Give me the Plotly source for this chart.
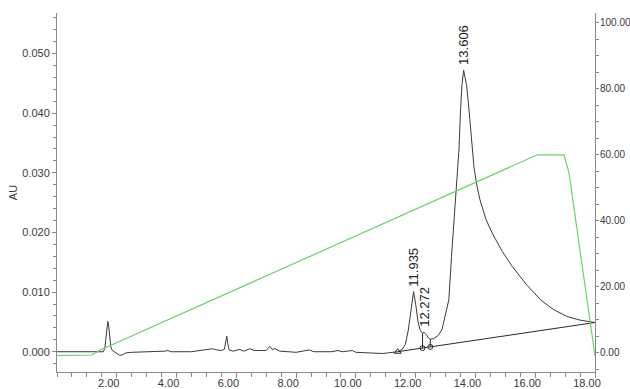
import numpy as np
import plotly.graph_objects as go

# ---- chromatogram trace (minutes, AU) ----
chrom_time = [0.00, 1.55, 1.60, 1.64, 1.67, 1.70, 1.73, 1.76, 1.80, 1.85, 1.95, 2.03, 2.10, 2.20,
              2.30, 2.50, 3.00, 3.50, 3.62, 3.71, 3.82, 4.50, 5.00, 5.20, 5.35, 5.50, 5.60, 5.65,
              5.68, 5.71, 5.76, 5.90, 6.10, 6.25, 6.45, 6.60, 7.00, 7.12, 7.20, 7.30, 7.45, 8.00,
              8.44, 8.60, 9.20, 9.40, 9.55, 9.88, 10.00, 10.90, 11.40, 11.55, 11.65, 11.75, 11.85,
              11.93, 12.00, 12.08, 12.15, 12.23, 12.27, 12.35, 12.43, 12.49, 12.60, 12.75, 12.88,
              13.00, 13.11, 13.20, 13.33, 13.45, 13.50, 13.55, 13.606, 13.65, 13.70, 13.76, 13.82,
              13.88, 13.95, 14.05, 14.15, 14.35, 14.56, 14.90, 15.23, 15.70, 16.18, 16.60, 17.07,
              17.50, 18.00]
chrom_au = [0.0000, 0.0000, 0.0006, 0.0025, 0.0045, 0.0051, 0.0043, 0.0022, 0.0008, 0.0002, -0.0001,
            -0.0003, -0.0006, -0.0005, -0.0002, -0.0001, 0.0000, 0.0000, 0.0001, 0.0002, 0.0000,
            0.0000, 0.0003, 0.0005, 0.0003, 0.0002, 0.0004, 0.0015, 0.0026, 0.0015, 0.0003, 0.0001,
            0.0004, 0.0001, 0.0005, 0.0002, 0.0002, 0.0009, 0.0004, 0.0005, 0.0001, -0.0001, 0.0003,
            0.0000, 0.0000, 0.0002, 0.0000, 0.0002, -0.0001, -0.0003, 0.0000, 0.0004, 0.0012,
            0.0035, 0.0075, 0.0101, 0.0080, 0.0050, 0.0036, 0.0031, 0.0033, 0.0029, 0.0023, 0.0021,
            0.0022, 0.0027, 0.0037, 0.0065, 0.0087, 0.0160, 0.0255, 0.0340, 0.0405, 0.0448, 0.0472,
            0.0462, 0.0448, 0.0420, 0.0388, 0.0350, 0.0310, 0.0278, 0.0255, 0.0222, 0.0199, 0.0168,
            0.0143, 0.0113, 0.0087, 0.0071, 0.0059, 0.0053, 0.0049]

# ---- integration baseline and drop lines ----
base_time = [11.40, 18.00]
base_au = [0.0000, 0.0049]
drop_time = [12.23, 12.49]
drop_top = [0.0031, 0.0021]

# ---- peak labels ----
peak_rt = [11.935, 12.272, 13.606]
peak_au = [0.0101, 0.0033, 0.0472]

# ---- gradient (%B, right axis) ----
grad_time = [0.00, 1.00, 1.15, 1.30, 1.45, 16.07, 16.96, 17.13, 18.00]
grad_val = [-0.9, -0.9, -0.7, 0.0, 0.8, 60.0, 60.0, 54.5, -1.0]

x_ticks = [2, 4, 6, 8, 10, 12, 14, 16, 18]

FONT = "Liberation Sans, Arial, sans-serif"
AXC = "#8a8a8a"

fig = go.Figure()

fig.add_trace(go.Scatter(x=grad_time, y=grad_val, yaxis="y2", mode="lines",
                         line=dict(color="#6ad36a", width=1.2), hoverinfo="skip"))
fig.add_trace(go.Scatter(x=chrom_time, y=chrom_au, mode="lines",
                         line=dict(color="#3a3a3a", width=1), hoverinfo="skip"))
fig.add_trace(go.Scatter(x=base_time, y=base_au, mode="lines",
                         line=dict(color="#2a2a2a", width=1), hoverinfo="skip"))

drop_bottom = list(np.interp(drop_time, base_time, base_au))
dx, dy = [], []
for t, top, bot in zip(drop_time, drop_top, drop_bottom):
    dx += [t, t, None]
    dy += [bot, top, None]
fig.add_trace(go.Scatter(x=dx, y=dy, mode="lines", line=dict(color="#2a2a2a", width=1),
                         hoverinfo="skip"))
fig.add_trace(go.Scatter(x=drop_time, y=drop_bottom, mode="markers",
                         marker=dict(symbol="circle-open", size=5, color="#2a2a2a",
                                     line=dict(width=1)), hoverinfo="skip"))
fig.add_trace(go.Scatter(x=[base_time[0]], y=[base_au[0]], mode="markers",
                         marker=dict(symbol="triangle-up-open", size=6, color="#2a2a2a",
                                     line=dict(width=1)), hoverinfo="skip"))

for rt, au in zip(peak_rt, peak_au):
    fig.add_annotation(x=rt, y=au, text=f"{rt:.3f}", textangle=-90, showarrow=False,
                       xanchor="center", yanchor="bottom", yshift=3,
                       font=dict(family=FONT, size=13, color="#222222"))

fig.update_layout(
    width=630, height=389,
    margin=dict(l=57, r=35, t=13, b=17),
    paper_bgcolor="white", plot_bgcolor="white",
    showlegend=False,
    font=dict(family=FONT, size=11, color="#3a3a3a"),
    xaxis=dict(range=[0, 18.0], showgrid=False, zeroline=False, showline=True, automargin=False,
               linecolor=AXC, linewidth=1, ticks="outside", ticklen=5, tickcolor=AXC,
               tickmode="array", tickvals=x_ticks, tickformat=".2f",
               ticklabelshift=-8, ticklabelstandoff=-4,
               minor=dict(dtick=0.5, tick0=0, ticks="outside", ticklen=4, tickcolor=AXC)),
    yaxis=dict(range=[-0.0034, 0.0568], showgrid=False, zeroline=False, showline=True,
               automargin=False,
               linecolor=AXC, linewidth=1, ticks="outside", ticklen=4, tickcolor=AXC,
               dtick=0.01, tick0=0, tickformat=".3f", ticklabelstandoff=0,
               title=dict(text="AU", standoff=2, font=dict(size=11)),
               minor=dict(dtick=0.002, tick0=0, ticks="outside", ticklen=3, tickcolor=AXC)),
    yaxis2=dict(range=[-5.85, 103.0], overlaying="y", side="right", anchor="x",
                automargin=False,
                showgrid=False, zeroline=False, showline=True, linecolor=AXC, linewidth=1,
                ticks="outside", ticklen=3, tickcolor=AXC, dtick=20, tick0=0,
                tickformat=".2f", ticklabelstandoff=-1, tickfont=dict(size=10),
                minor=dict(dtick=5, tick0=0, ticks="outside", ticklen=3, tickcolor=AXC)),
)

fig.write_html("out.html", config={"displayModeBar": False},
               post_script="document.body.style.margin='0';document.body.style.overflow='hidden';")
